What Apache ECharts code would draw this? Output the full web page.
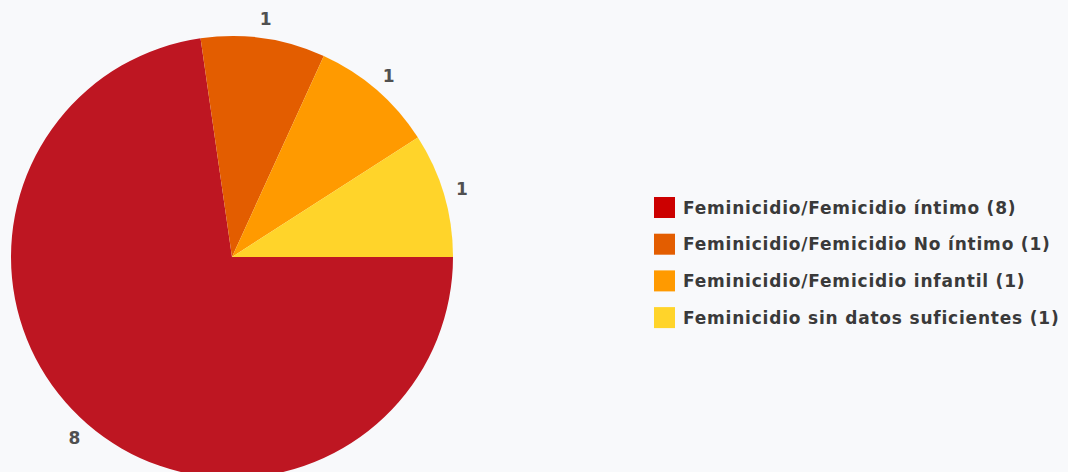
<!DOCTYPE html>
<html><head><meta charset="utf-8">
<script src="https://cdn.jsdelivr.net/npm/echarts@6/dist/echarts.min.js"></script>
<style>html,body{margin:0;padding:0;background:#f8f9fb;}#c{width:1068px;height:472px;}#c text{letter-spacing:0.8px;}</style>
</head><body><div id="c"></div>
<script>
const categories = ["Feminicidio/Femicidio íntimo", "Feminicidio/Femicidio No íntimo", "Feminicidio/Femicidio infantil", "Feminicidio sin datos suficientes"];
const values = [8, 1, 1, 1];
const sliceColors = ["#be1622", "#e35d00", "#ff9a00", "#ffd42a"];
const legendColors = ["#cc0000", "#e35d00", "#ff9a00", "#ffd42a"];

const chart = echarts.init(document.getElementById('c'), null, {renderer: 'svg'});
chart.setOption({
  backgroundColor: '#f8f9fb',
  animation: false,
  legend: {
    orient: 'vertical',
    left: 654,
    top: 197,
    padding: 0,
    itemWidth: 21,
    itemHeight: 21,
    itemGap: 15.7,
    icon: 'rect',
    selectedMode: false,
    formatter: name => name + ' (' + values[categories.indexOf(name)] + ')',
    textStyle: {fontFamily: 'DejaVu Sans', fontSize: 17, fontWeight: 'bold', color: '#3a3a3a', padding: [0, 0, 0, 3]},
    data: categories.map((c, i) => ({name: c, itemStyle: {color: legendColors[i]}}))
  },
  series: [{
    type: 'pie',
    center: [232, 257],
    radius: 221,
    startAngle: 0,
    clockwise: true,
    label: {show: false},
    labelLine: {show: false},
    itemStyle: {borderWidth: 0},
    emphasis: {disabled: true},
    data: categories.map((c, i) => ({name: c, value: values[i], itemStyle: {color: sliceColors[i]}}))
  }, {
    type: 'pie',
    center: [232, 257],
    radius: [228, 246],
    startAngle: 0,
    clockwise: true,
    silent: true,
    label: {show: true, position: 'inside', formatter: '{c}', fontFamily: 'DejaVu Sans', fontSize: 17, fontWeight: 'bold', color: '#505050'},
    labelLine: {show: false},
    itemStyle: {color: 'rgba(0,0,0,0)', borderWidth: 0},
    emphasis: {disabled: true},
    data: categories.map((c, i) => ({name: c, value: values[i]}))
  }]
});
</script></body></html>
